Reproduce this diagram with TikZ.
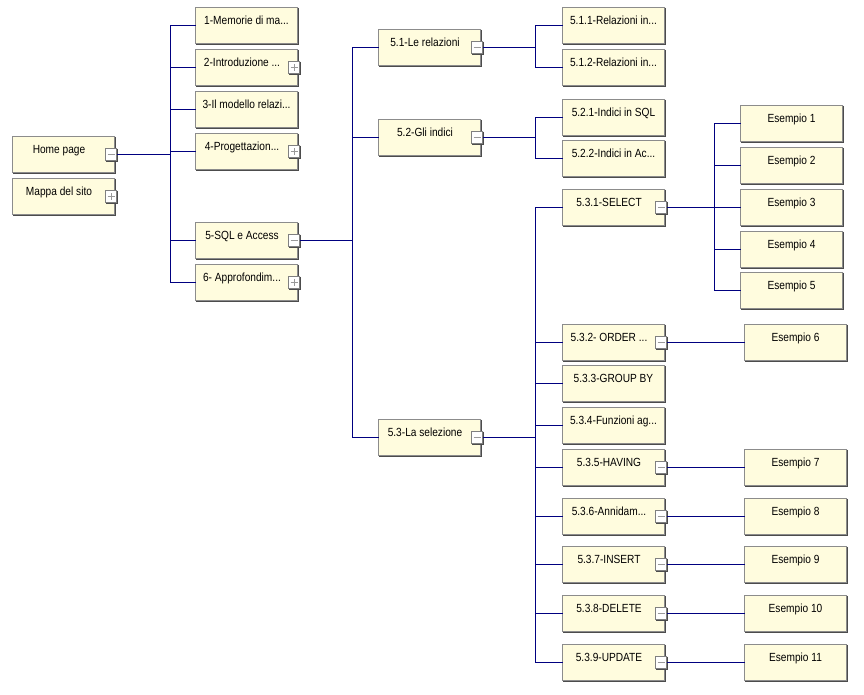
\documentclass[tikz,border=0pt]{standalone}
\usepackage{fontspec}
\setmainfont{Liberation Sans}
\newfontfamily\msfont[FakeStretch=0.86]{Liberation Sans}
\usetikzlibrary{calc}
\definecolor{cream}{RGB}{255,252,222}
\definecolor{navy}{RGB}{0,0,128}
\tikzset{
 pbox/.style={draw=gray!90, fill=cream, line width=1pt, minimum width=102pt, minimum height=36pt, inner sep=0pt, outer sep=0pt},
 lbl/.style={font=\msfont\fontsize{11.8}{13}\selectfont, inner sep=0pt},
 conn/.style={draw=navy, line width=1pt},
 btn/.style={draw=gray, fill=white, line width=1pt, minimum width=11pt, minimum height=12pt, inner sep=0pt, outer sep=0pt},
 shad/.style={draw=black!70, line width=1pt},
 sign/.style={draw=gray!80, line width=1pt}
}
\newcommand\pnode[5]{%
 \node[pbox, anchor=north west] (#1) at (#2+0.5,#3+0.5) {};
 \draw[shad] ([shift={(1,0)}]#1.north east) -- ([shift={(1,1)}]#1.south east) -- ([shift={(0,1)}]#1.south west);
 \ifnum#5=0
   \node[lbl, anchor=base] (#1-t) at ($(#1.north west)+(51,16.5)$) {#4};
 \else
   \node[lbl, anchor=base] (#1-t) at ($(#1.north west)+(46.5,16.5)$) {#4};
   \node[btn] (#1-b) at ([xshift=-3.5pt]#1.east) {};
   \draw[shad] ([shift={(1,0)}]#1-b.north east) -- ([shift={(1,1)}]#1-b.south east) -- ([shift={(0,1)}]#1-b.south west);
   \draw[sign] ([xshift=-3.5pt]#1-b.center) -- ([xshift=3.5pt]#1-b.center);
   \ifnum#5=2
     \draw[sign] ([shift={(0.5,-3.5)}]#1-b.center) -- ([shift={(0.5,3.5)}]#1-b.center);
   \fi
 \fi
}
\begin{document}
\begin{tikzpicture}[x=1pt,y=-1pt]
\fill[white] (0,0) rectangle (864,694);
\useasboundingbox (0,0) rectangle (864,694);
\coordinate (t1) at (170.5,0);
\coordinate (t2) at (352.5,0);
\coordinate (t3) at (535.5,0);
\coordinate (t4) at (714.5,0);
\pnode{hp}{12}{136}{Home page}{1}
\pnode{ms}{12}{178}{Mappa del sito}{2}
\pnode{m1}{195}{7}{1-Memorie di ma...}{0}
\pnode{m2}{195}{49}{2-Introduzione ...}{2}
\pnode{m3}{195}{91}{3-Il modello relazi...}{0}
\pnode{m4}{195}{133}{4-Progettazion...}{2}
\pnode{m5}{195}{222}{5-SQL e Access}{1}
\pnode{m6}{195}{264}{6- Approfondim...}{2}
\pnode{s1}{378}{29}{5.1-Le relazioni}{1}
\pnode{s2}{378}{119}{5.2-Gli indici}{1}
\pnode{s3}{378}{419}{5.3-La selezione}{1}
\pnode{s11}{562}{7}{5.1.1-Relazioni in...}{0}
\pnode{s12}{562}{49}{5.1.2-Relazioni in...}{0}
\pnode{s21}{562}{99}{5.2.1-Indici in SQL}{0}
\pnode{s22}{562}{140}{5.2.2-Indici in Ac...}{0}
\pnode{s31}{562}{189}{5.3.1-SELECT}{1}
\pnode{s32}{562}{324}{5.3.2- ORDER ...}{1}
\pnode{s33}{562}{365}{5.3.3-GROUP BY}{0}
\pnode{s34}{562}{407}{5.3.4-Funzioni ag...}{0}
\pnode{s35}{562}{449}{5.3.5-HAVING}{1}
\pnode{s36}{562}{498}{5.3.6-Annidam...}{1}
\pnode{s37}{562}{546}{5.3.7-INSERT}{1}
\pnode{s38}{562}{595}{5.3.8-DELETE}{1}
\pnode{s39}{562}{644}{5.3.9-UPDATE}{1}
\pnode{e1}{740}{105}{Esempio 1}{0}
\pnode{e2}{740}{147}{Esempio 2}{0}
\pnode{e3}{740}{189}{Esempio 3}{0}
\pnode{e4}{740}{231}{Esempio 4}{0}
\pnode{e5}{740}{272}{Esempio 5}{0}
\pnode{e6}{744}{324}{Esempio 6}{0}
\pnode{e7}{744}{449}{Esempio 7}{0}
\pnode{e8}{744}{498}{Esempio 8}{0}
\pnode{e9}{744}{546}{Esempio 9}{0}
\pnode{e10}{744}{595}{Esempio 10}{0}
\pnode{e11}{744}{644}{Esempio 11}{0}
% connectors
\draw[conn] (hp-b.east) -- (hp-b.east -| t1);
\foreach \c in {m1,m2,m3,m4,m5,m6}
  \draw[conn] (hp-b.east -| t1) |- (\c.west);
\draw[conn] (m5-b.east) -- (m5-b.east -| t2);
\foreach \c in {s1,s2,s3}
  \draw[conn] (m5-b.east -| t2) |- (\c.west);
\draw[conn] (s1-b.east) -- (s1-b.east -| t3);
\foreach \c in {s11,s12}
  \draw[conn] (s1-b.east -| t3) |- (\c.west);
\draw[conn] (s2-b.east) -- (s2-b.east -| t3);
\foreach \c in {s21,s22}
  \draw[conn] (s2-b.east -| t3) |- (\c.west);
\draw[conn] (s3-b.east) -- (s3-b.east -| t3);
\foreach \c in {s31,s32,s33,s34,s35,s36,s37,s38,s39}
  \draw[conn] (s3-b.east -| t3) |- (\c.west);
\draw[conn] (s31-b.east) -- (s31-b.east -| t4);
\foreach \c in {e1,e2,e3,e4,e5}
  \draw[conn] (s31-b.east -| t4) |- (\c.west);
\draw[conn] (s32-b.east) -- (e6.west);
\draw[conn] (s35-b.east) -- (e7.west);
\draw[conn] (s36-b.east) -- (e8.west);
\draw[conn] (s37-b.east) -- (e9.west);
\draw[conn] (s38-b.east) -- (e10.west);
\draw[conn] (s39-b.east) -- (e11.west);
\end{tikzpicture}
\end{document}
